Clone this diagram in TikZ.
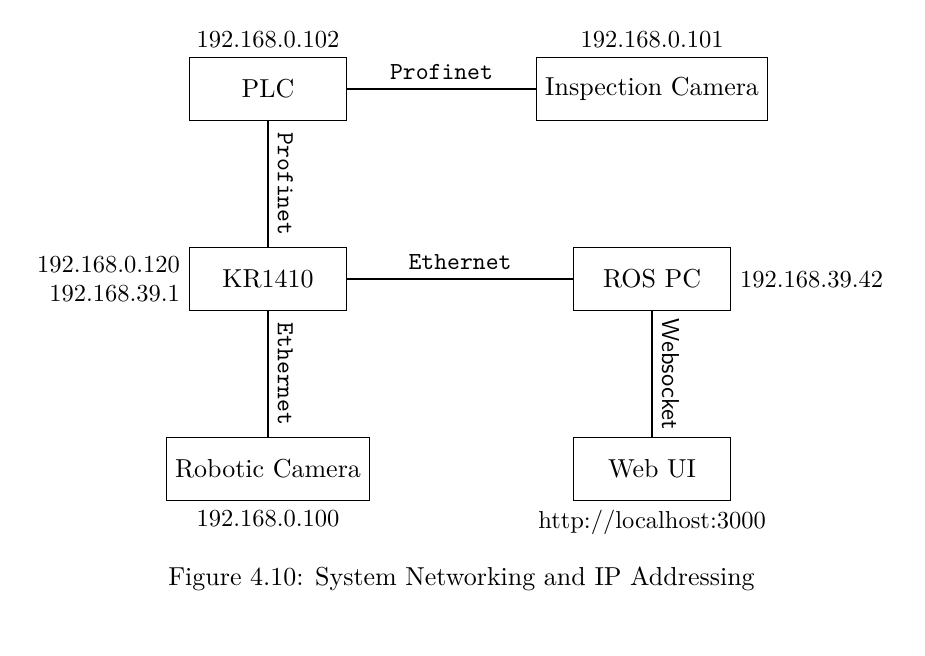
\documentclass[tikz,border=0pt]{standalone}
\begin{document}
\fontsize{10.6}{12.7}\selectfont
\begin{tikzpicture}

		\useasboundingbox (0,0) rectangle (13.27,-9.40);

		\tikzset{device/.style={draw, minimum width=2.25cm, minimum height=0.9cm},
			link/.style={thick},
			addr/.style={font=\fontsize{10}{12}\selectfont},
			proto/.style={font=\fontsize{10}{12}\selectfont\ttfamily}}

		\node[device] (PLC) at (3.845,-1.277) {PLC};
		\node[device] (CAM) at (9.355,-1.277) {Inspection Camera};
		\node[device] (KR) at (3.845,-4.003) {KR1410};
		\node[device] (ROS) at (9.355,-4.003) {ROS PC};
		\node[device] (RCAM) at (3.845,-6.729) {Robotic Camera};
		\node[device] (WEB) at (9.355,-6.729) {Web UI};

		\node[addr, above] (PLCip) at (PLC.north) {192.168.0.102};
		\node[addr, above] (CAMip) at (CAM.north) {192.168.0.101};
		\node[addr, left, align=right] (KRip) at (KR.west) {192.168.0.120\\192.168.39.1};
		\node[addr, right] (ROSip) at (ROS.east) {192.168.39.42};
		\node[addr, below] (RCAMip) at (RCAM.south) {192.168.0.100};
		\node[addr, below] (WEBip) at (WEB.south) {http://localhost:3000};

		\draw[link] (PLC) -- node[proto, above] {Profinet} (CAM);
		\draw[link] (PLC) -- node[proto, above, sloped] {Profinet} (KR);
		\draw[link] (KR) -- node[proto, above] {Ethernet} (ROS);
		\draw[link] (KR) -- node[proto, above, sloped] {Ethernet} (RCAM);
		\draw[link] (ROS) -- node[above, sloped, font=\fontsize{10}{12}\selectfont\sffamily] {Websocket} (WEB);

		\node (caption) at (6.62,-8.31) {Figure 4.10: System Networking and IP Addressing};

	\end{tikzpicture}
\end{document}
